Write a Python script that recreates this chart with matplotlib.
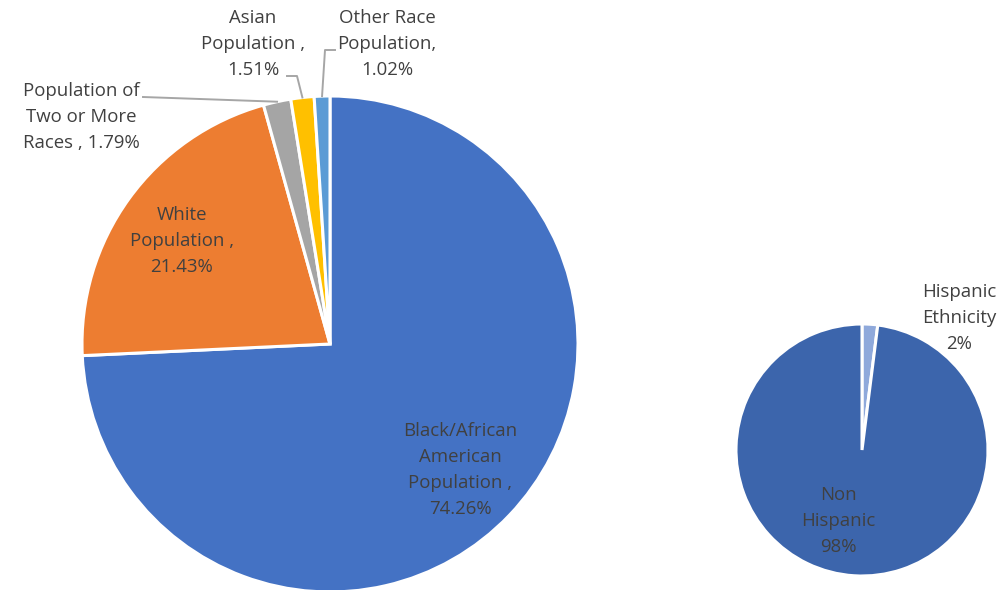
import numpy as np
import matplotlib.pyplot as plt

# race breakdown (percent)
race_labels = ["Black/African\nAmerican\nPopulation ,", "White\nPopulation ,",
               "Population of\nTwo or More\nRaces ,", "Asian\nPopulation ,",
               "Other Race\nPopulation,"]
race_values = [74.26, 21.43, 1.79, 1.51, 1.02]
race_colors = ["#4472C4", "#ED7D31", "#A5A5A5", "#FFC000", "#5B9BD5"]

# ethnicity breakdown (percent)
eth_labels = ["Hispanic\nEthnicity", "Non\nHispanic"]
eth_values = [2, 98]
eth_colors = ["#8FA9DB", "#3C65AC"]

W, H = 1003, 590
plt.rcParams['font.family'] = ['Open Sans', 'DejaVu Sans']
fig = plt.figure(figsize=(W / 100, H / 100), dpi=100)
ax = fig.add_axes([0, 0, 1, 1])

c1, r1 = (330, H - 344), 248
c2, r2 = (862, H - 450), 126

w1, _ = ax.pie(race_values, colors=race_colors, startangle=90, counterclock=False,
               center=c1, radius=r1, explode=[0, .012, .012, .012, .012],
               wedgeprops=dict(edgecolor="white", linewidth=2.2))
w2, _ = ax.pie(eth_values, colors=eth_colors, startangle=90, counterclock=False,
               center=c2, radius=r2, explode=[.02, 0],
               wedgeprops=dict(edgecolor="white", linewidth=2.2))

txt = dict(ha="center", va="center", color="#404040", fontsize=13.4, linespacing=1.55)

# label positions (image pixels, y measured from top)
race_pos = [(460, 470), (182, 241), (81, 117), (253, 44), (387, 44)]
for lab, v, (x, y) in zip(race_labels, race_values, race_pos):
    sep = " " if "Races" in lab else "\n"
    ax.text(x, H - y, f"{lab}{sep}{v:.2f}%", **txt)

eth_pos = [(959, 318), (838, 521)]
for lab, v, (x, y) in zip(eth_labels, eth_values, eth_pos):
    ax.text(x, H - y, f"{lab}\n{v:.0f}%", **txt)


def edge_point(wedge):
    a = np.deg2rad((wedge.theta1 + wedge.theta2) / 2)
    cx, cy = wedge.center
    return cx + wedge.r * np.cos(a), cy + wedge.r * np.sin(a)


# leader lines for the small outside labels
leaders = {2: [(143, 97)], 3: [(287, 76), (297, 76)], 4: [(335, 50), (325, 50)]}
for i, pts in leaders.items():
    ex, ey = edge_point(w1[i])
    xs = [p[0] for p in pts] + [ex]
    ys = [H - p[1] for p in pts] + [ey]
    ax.plot(xs, ys, color="#A6A6A6", lw=1.4)

ax.set_xlim(0, W)
ax.set_ylim(0, H)
ax.set_aspect("equal")
ax.axis("off")
fig.savefig("out.png", dpi=100)
